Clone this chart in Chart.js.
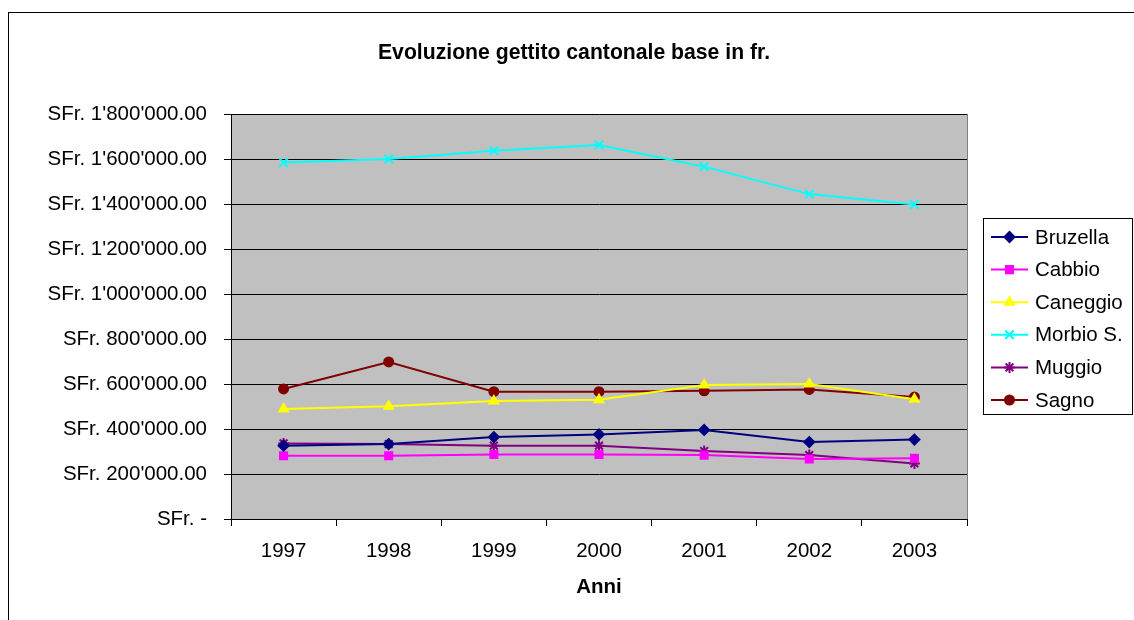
<!DOCTYPE html>
<html>
<head>
<meta charset="utf-8">
<script src="https://cdn.jsdelivr.net/npm/chart.js@4/dist/chart.umd.min.js"></script>
<style>
  html, body { margin: 0; padding: 0; background: #ffffff; }
  #wrap { width: 1134px; height: 620px; position: relative; }
</style>
</head>
<body>
<div id="wrap"><canvas id="c" width="1134" height="620"></canvas></div>
<script>
// Anni di riferimento
const anni = ['1997', '1998', '1999', '2000', '2001', '2002', '2003'];

// Gettito cantonale base per comune (fr.)
const bruzella = [326000, 333000, 364000, 376000, 396000, 342000, 353000];
const cabbio   = [281000, 281000, 287000, 287000, 284000, 267000, 270000];
const caneggio = [489000, 501000, 524000, 530000, 596000, 600000, 532000];
const morbio   = [1584000, 1600000, 1637000, 1662000, 1566000, 1444000, 1398000];
const muggio   = [336000, 333000, 326000, 326000, 302000, 284000, 247000];
const sagno    = [578000, 698000, 566000, 566000, 570000, 576000, 542000];

// Scala dell'asse dei valori
const yMin = 0;
const yMax = 1800000;
const yStep = 200000;

const TITOLO = 'Evoluzione gettito cantonale base in fr.';
const FONT = '"Liberation Sans", Arial, Helvetica, sans-serif';

function formatSFr(v) {
  if (v === 0) return 'SFr. -';
  const parts = Math.round(v).toString().replace(/\B(?=(\d{3})+(?!\d))/g, "'");
  return 'SFr. ' + parts + '.00';
}

function serie(label, data, color, style, radius) {
  return {
    label: label,
    data: data,
    borderColor: color,
    backgroundColor: color,
    pointBackgroundColor: color,
    pointBorderColor: color,
    pointStyle: style,
    pointRadius: radius,
    pointHoverRadius: radius,
    pointBorderWidth: 2,
    borderWidth: 2,
    tension: 0,
    fill: false
  };
}

const datasets = [
  serie('Bruzella', bruzella, '#000080', 'rectRot', 5),
  serie('Cabbio', cabbio, '#FF00FF', 'rect', 5),
  serie('Caneggio', caneggio, '#FFFF00', 'triangle', 5),
  serie('Morbio S.', morbio, '#00FFFF', 'crossRot', 6),
  serie('Muggio', muggio, '#800080', 'star', 5.5),
  serie('Sagno', sagno, '#800000', 'circle', 4.5)
];

// Sfondo grigio dell'area del grafico, cornice esterna e titolo
const plotBackground = {
  id: 'plotBackground',
  beforeDraw(chart) {
    const { ctx, chartArea: a } = chart;
    ctx.save();
    ctx.fillStyle = '#ffffff';
    ctx.fillRect(0, 0, chart.width, chart.height);
    ctx.strokeStyle = '#000000';
    ctx.lineWidth = 1;
    ctx.strokeRect(8.5, 12.5, chart.width + 20, chart.height + 20);
    ctx.fillStyle = '#C0C0C0';
    ctx.fillRect(a.left, a.top, a.right - a.left, a.bottom - a.top);
    ctx.strokeStyle = '#808080';
    ctx.strokeRect(Math.round(a.left) + 0.5, Math.round(a.top) + 0.5,
                   Math.round(a.right - a.left), Math.round(a.bottom - a.top));
    ctx.fillStyle = '#000000';
    ctx.font = 'bold 21.2px ' + FONT;
    ctx.textAlign = 'center';
    ctx.textBaseline = 'middle';
    ctx.fillText(TITOLO, 574, 53);
    ctx.restore();
  }
};

// Legenda in riquadro a destra
const boxLegend = {
  id: 'boxLegend',
  afterDraw(chart) {
    const { ctx } = chart;
    const x0 = 983.5, y0 = 218.5, w = 149, h = 196;
    ctx.save();
    ctx.fillStyle = '#ffffff';
    ctx.fillRect(x0, y0, w, h);
    ctx.strokeStyle = '#000000';
    ctx.lineWidth = 1;
    ctx.strokeRect(x0, y0, w, h);
    ctx.font = '20.5px ' + FONT;
    ctx.textBaseline = 'middle';
    ctx.textAlign = 'left';
    chart.data.datasets.forEach((ds, i) => {
      const y = 237 + i * 32.6;
      ctx.strokeStyle = ds.borderColor;
      ctx.lineWidth = 2;
      ctx.beginPath();
      ctx.moveTo(991, y);
      ctx.lineTo(1028, y);
      ctx.stroke();
      ctx.fillStyle = ds.borderColor;
      ctx.strokeStyle = ds.borderColor;
      Chart.helpers.drawPoint(ctx, {
        pointStyle: ds.pointStyle,
        radius: ds.pointRadius,
        rotation: 0,
        borderWidth: 2
      }, 1009.5, y);
      ctx.fillStyle = '#000000';
      ctx.fillText(ds.label, 1035, y + 1);
    });
    ctx.restore();
  }
};

new Chart(document.getElementById('c'), {
  type: 'line',
  data: { labels: anni, datasets: datasets },
  plugins: [plotBackground, boxLegend],
  options: {
    responsive: false,
    animation: false,
    events: [],
    layout: { padding: { left: 0, right: 167, top: 114, bottom: 0 } },
    plugins: {
      legend: { display: false },
      tooltip: { enabled: false },
      title: { display: false }
    },
    scales: {
      x: {
        type: 'category',
        offset: true,
        afterFit(scale) { scale.height = 101; },
        grid: {
          display: true,
          offset: true,
          drawOnChartArea: false,
          drawTicks: true,
          tickLength: 7,
          color: '#000000',
          lineWidth: 1
        },
        border: { display: true, color: '#000000', width: 1 },
        ticks: {
          color: '#000000',
          font: { family: FONT, size: 20.5 },
          padding: 13,
          maxRotation: 0
        },
        title: {
          display: true,
          text: 'Anni',
          color: '#000000',
          font: { family: FONT, size: 20.5, weight: 'bold' },
          padding: { top: 0, bottom: 20 }
        }
      },
      y: {
        min: yMin,
        max: yMax,
        afterFit(scale) { scale.width = 231; },
        grid: {
          display: true,
          drawOnChartArea: true,
          drawTicks: true,
          tickLength: 7,
          color: '#000000',
          lineWidth: 1
        },
        border: { display: true, color: '#000000', width: 1 },
        ticks: {
          stepSize: yStep,
          color: '#000000',
          font: { family: FONT, size: 20.5 },
          padding: 17,
          callback: (v) => formatSFr(v)
        }
      }
    }
  }
});
</script>
</body>
</html>
